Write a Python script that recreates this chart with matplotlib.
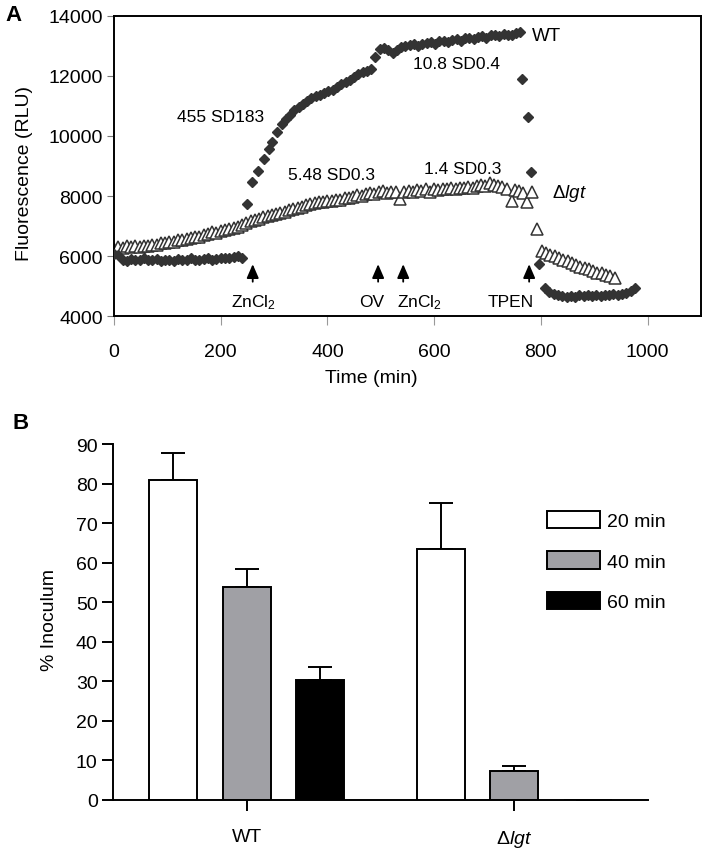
import numpy as np
import matplotlib
matplotlib.use('Agg')
import matplotlib.pyplot as plt
from matplotlib.patches import Patch

plt.rcParams['font.family'] = ['Liberation Sans', 'DejaVu Sans']
plt.rcParams['mathtext.fontset'] = 'custom'
plt.rcParams['mathtext.rm'] = 'Liberation Sans'
plt.rcParams['mathtext.it'] = 'Liberation Sans:italic'

# ---- Panel A data: fluorescence time course ----
wt_time = np.concatenate([
    np.arange(0, 241, 8),
    [249, 258, 270, 282, 290, 297, 305],
    np.arange(314, 759, 8),
    [760, 765, 776, 782, 797],
    np.arange(808, 977, 8),
])
wt_rlu = [
    # baseline 0-240
    6070, 6030, 5880, 5850, 5900, 5870, 5880, 5920, 5860, 5870, 5900,
    5850, 5880, 5870, 5850, 5900, 5880, 5870, 5930, 5880, 5870, 5900,
    5920, 5880, 5900, 5930, 5920, 5950, 5970, 6000, 5950,
    # ZnCl2 response
    7730, 8460, 8830, 9230, 9550, 9800, 10130,
    # 314-754
    10400, 10550, 10700, 10850, 10980, 11080, 11170, 11250, 11320, 11380,
    11440, 11490, 11530, 11620, 11720, 11800, 11880, 11950, 12050, 12120,
    12180, 12230, 12630, 12900, 12930, 12880, 12750, 12880, 12950, 13000,
    13020, 13050, 13000, 13080, 13100, 13120, 13080, 13150, 13170, 13130,
    13200, 13220, 13180, 13250, 13270, 13230, 13300, 13320, 13280, 13350,
    13380, 13330, 13400, 13380, 13350, 13420,
    # end + TPEN drop
    13470, 11900, 10620, 8800, 5750,
    # 808-976
    4950, 4800, 4750, 4700, 4680, 4650, 4680, 4650, 4700, 4680, 4700,
    4680, 4700, 4680, 4700, 4700, 4720, 4700, 4730, 4780, 4850, 4950,
]

lgt_time = np.concatenate([
    np.arange(0, 737, 8),
    [746, 752, 759, 766, 774, 783, 793],
    np.arange(802, 939, 8),
])
lgt_rlu = [
    6250, 6300, 6280, 6320, 6300, 6330, 6310, 6350, 6330, 6380, 6360,
    6420, 6450, 6480, 6460, 6520, 6550, 6580, 6600, 6620, 6650, 6700,
    6750, 6800, 6780, 6850, 6870, 6900, 6920, 6980, 7020, 7100, 7170,
    7200, 7250, 7300, 7330, 7370, 7400, 7440, 7480, 7520, 7560, 7600,
    7650, 7690, 7730, 7760, 7790, 7810, 7830, 7850, 7880, 7870, 7920,
    7950, 7980, 8030, 8000, 8060, 8100, 8070, 8130, 8170, 8100, 8150,
    8120, 7900, 8150, 8180, 8150, 8200, 8180, 8220, 8150, 8230, 8200,
    8250, 8230, 8270, 8250, 8280, 8260, 8300, 8280, 8330, 8380, 8350,
    8420, 8380, 8350, 8300, 8230,
    7830, 8200, 8170, 8100, 7800, 8130, 6900,
    6170, 6100, 6050, 6000, 5950, 5880, 5830, 5780, 5700, 5650, 5600,
    5560, 5500, 5450, 5420, 5380, 5330, 5280,
]

# treatment arrows (time of addition) and labels
arrow_times = [260, 495, 542, 778]
arrow_labels = ['ZnCl$_2$', 'OV', 'ZnCl$_2$', 'TPEN']
arrow_label_x = [262, 482, 572, 744]

# rate annotations
rate_text = ['455 SD183', '5.48 SD0.3', '10.8 SD0.4', '1.4 SD0.3']
rate_xy = [(200, 10650), (407, 8720), (641, 12400), (653, 8900)]

# ---- Panel B data: % inoculum ----
strains = ['WT', r'$\Delta\mathit{lgt}$']
times_legend = ['20 min', '40 min', '60 min']
inoculum = [[81.0, 63.5], [53.8, 7.2], [30.3, 0.0]]
inoculum_err = [[6.7, 11.5], [4.5, 1.5], [3.4, 0.0]]
bar_colors = ['white', '#a0a0a5', 'black']

fig = plt.figure(figsize=(7.07, 8.54), dpi=100)

# ===== Panel A =====
axA = fig.add_axes([0.1612, 0.6288, 0.8303, 0.3513])
axA.plot(wt_time, wt_rlu, linestyle='none', marker='D', markersize=5.4,
         color='#333333', markeredgecolor='#333333', zorder=3)
axA.plot(lgt_time, lgt_rlu, linestyle='none', marker='^', markersize=8.3,
         markerfacecolor='white', markeredgecolor='#333333',
         markeredgewidth=1.1, zorder=2)
axA.set_xlim(0, 1100)
axA.set_ylim(4000, 14000)
axA.set_xticks(np.arange(0, 1001, 200))
axA.set_yticks(np.arange(4000, 14001, 2000))
for s in axA.spines.values():
    s.set_linewidth(1.4)
axA.tick_params(axis='y', direction='out', length=5, width=0.8,
                color='#777777', labelsize=14, pad=3)
axA.tick_params(axis='x', direction='out', length=6.5, width=0.8,
                color='#999999', labelsize=14, pad=13)
axA.set_xlabel('Time (min)', fontsize=14)
axA.xaxis.set_label_coords(0.438, -0.178)
axA.set_ylabel('Fluorescence (RLU)', fontsize=14)
axA.yaxis.set_label_coords(-0.138, 0.478)

for t, lab, lx in zip(arrow_times, arrow_labels, arrow_label_x):
    axA.annotate('', xy=(t, 5820), xytext=(t, 5050),
                 arrowprops=dict(arrowstyle='-|>,head_width=0.26,head_length=0.6',
                                 color='black', lw=1.3, mutation_scale=14))
    axA.text(lx, 4330, lab, fontsize=12.5, ha='center', va='baseline')

for txt, (x, y) in zip(rate_text, rate_xy):
    axA.text(x, y, txt, fontsize=12.5, ha='center', va='center')

axA.text(783, 13350, 'WT', fontsize=13.5, ha='left', va='center')
axA.text(820, 8130, r'$\Delta\mathit{lgt}$', fontsize=13.5, ha='left', va='center')
fig.text(0.007, 0.994, 'A', fontsize=16, fontweight='bold', va='top')

# ===== Panel B =====
axB = fig.add_axes([0.1598, 0.0621, 0.7568, 0.4168])
group_x = np.arange(len(strains))
offset = 0.275
width = 0.18
for i in range(len(times_legend)):
    xpos = group_x + (i - 1) * offset
    axB.bar(xpos, inoculum[i], width=width, color=bar_colors[i],
            edgecolor='black', linewidth=1.4, zorder=2)
    axB.errorbar(xpos, inoculum[i],
                 yerr=[np.zeros(len(strains)), inoculum_err[i]],
                 fmt='none', ecolor='black', elinewidth=1.4,
                 capsize=8.3, capthick=1.4, zorder=1)

axB.set_xlim(-0.5, 1.5)
axB.set_ylim(0, 90)
axB.set_yticks(np.arange(0, 91, 10))
axB.set_xticks(group_x)
axB.set_xticklabels(strains, fontsize=14)
axB.spines['top'].set_visible(False)
axB.spines['right'].set_visible(False)
axB.spines['left'].set_linewidth(1.4)
axB.spines['bottom'].set_linewidth(1.4)
axB.tick_params(axis='y', direction='out', length=8, width=1.4, labelsize=14, pad=3)
axB.tick_params(axis='x', direction='out', length=8, width=1.4, labelsize=14, pad=12)
axB.set_ylabel('% Inoculum', fontsize=14)
axB.yaxis.set_label_coords(-0.102, 0.508)

handles = [Patch(facecolor=c, edgecolor='black', linewidth=1.4) for c in bar_colors]
axB.legend(handles, times_legend, loc='upper left', bbox_to_anchor=(0.811, 0.812),
           frameon=False, fontsize=14, handlelength=2.73, handleheight=0.98,
           labelspacing=1.09, handletextpad=0.36, borderpad=0, borderaxespad=0)
fig.text(0.017, 0.516, 'B', fontsize=16, fontweight='bold', va='top')

fig.savefig('out.png', dpi=100)
